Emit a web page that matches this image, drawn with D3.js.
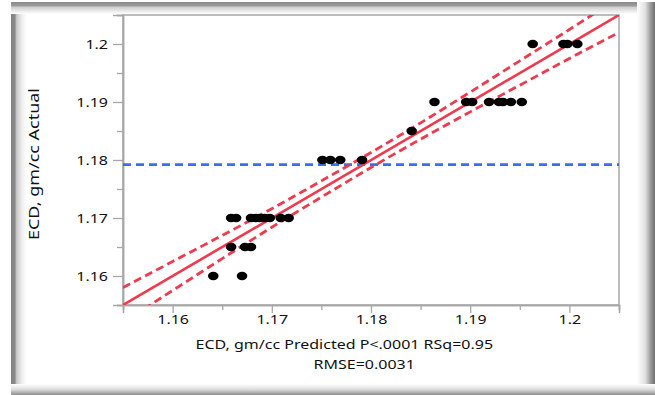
<!DOCTYPE html>
<html><head><meta charset="utf-8">
<script src="https://cdn.jsdelivr.net/npm/d3@7"></script>
<style>html,body{margin:0;padding:0;background:#fff;overflow:hidden}</style>
</head><body>
<svg id="c" width="655" height="395"></svg>
<script>
// ---- data ----
const predicted = [1.1641, 1.1670,
  1.1659, 1.1673, 1.1679,
  1.1659, 1.1664, 1.1679, 1.1684, 1.1688, 1.1693, 1.1698, 1.1709, 1.1717,
  1.1751, 1.1759, 1.1769, 1.1791,
  1.1841,
  1.1864, 1.1896, 1.1902, 1.1919, 1.1929, 1.1933, 1.1941, 1.1952,
  1.1963, 1.1994, 1.1998, 1.2008];
const actual = [1.16, 1.16,
  1.165, 1.165, 1.165,
  1.17, 1.17, 1.17, 1.17, 1.17, 1.17, 1.17, 1.17, 1.17,
  1.18, 1.18, 1.18, 1.18,
  1.185,
  1.19, 1.19, 1.19, 1.19, 1.19, 1.19, 1.19, 1.19,
  1.2, 1.2, 1.2, 1.2];
const xTickValues = [1.16, 1.17, 1.18, 1.19, 1.2];
const xTickLabels = ["1.16", "1.17", "1.18", "1.19", "1.2"];
const yTickValues = [1.16, 1.17, 1.18, 1.19, 1.2];
const yTickLabels = ["1.16", "1.17", "1.18", "1.19", "1.2"];
const minorTickValues = [1.155, 1.165, 1.175, 1.185, 1.195, 1.205];
const fitX = [1.155, 1.205];
const fitY = [1.155, 1.205];
const bandX = [1.155, 1.16, 1.165, 1.17, 1.175, 1.18, 1.185, 1.19, 1.195, 1.2, 1.205];
const bandHalfWidth = [0.0030, 0.0025, 0.0020, 0.0016, 0.0014, 0.0013, 0.0014, 0.0017, 0.0021, 0.0025, 0.0030];
const meanActual = 1.1792;
const xTitleLines = ["ECD, gm/cc Predicted P<.0001 RSq=0.95", "RMSE=0.0031"];
const yTitle = "ECD, gm/cc Actual";

// ---- drawing ----
const svg = d3.select("#c");
const FONT = "'Noto Sans', 'Open Sans', sans-serif";
const SX = 1.28;
const RED = "#ee3a4e", BLUE = "#3570ee", AXIS = "#a6a6a6", INK = "#111";
const L = 123, R = 619, T = 15, B = 305;

const defs = svg.append("defs");
function grad(id, x1, y1, x2, y2, stops) {
  const g = defs.append("linearGradient").attr("id", id)
    .attr("x1", x1).attr("y1", y1).attr("x2", x2).attr("y2", y2);
  stops.forEach(s => g.append("stop").attr("offset", s[0]).attr("stop-color", s[1]));
}
grad("gl", 0, 0, 1, 0, [[0, "#808080"], [0.25, "#8c8c8c"], [0.35, "#c8c8c8"], [0.7, "#f0f0f0"], [1, "#ffffff"]]);
grad("gt", 0, 0, 0, 1, [[0, "#8a8a8a"], [0.3, "#9a9a9a"], [0.45, "#cfcfcf"], [1, "#ffffff"]]);
grad("gr", 0, 0, 1, 0, [[0, "#ffffff"], [0.45, "#e2e2e2"], [0.75, "#9c9c9c"], [1, "#6e6e6e"]]);
grad("gb", 0, 0, 0, 1, [[0, "#ffffff"], [0.5, "#dcdcdc"], [1, "#8c8c8c"]]);

svg.append("rect").attr("x", 0).attr("y", 0).attr("width", 655).attr("height", 395).attr("fill", "#fff");
const fr = svg.append("g");
fr.append("rect").attr("x", 11).attr("y", 2).attr("width", 16).attr("height", 393).attr("fill", "url(#gl)");
fr.append("rect").attr("x", 11).attr("y", 2).attr("width", 644).attr("height", 12).attr("fill", "url(#gt)");
fr.append("rect").attr("x", 637).attr("y", 2).attr("width", 18).attr("height", 393).attr("fill", "url(#gr)");
fr.append("rect").attr("x", 11).attr("y", 384).attr("width", 644).attr("height", 11).attr("fill", "url(#gb)");

const x = d3.scaleLinear().domain([1.155, 1.205]).range([L, R]);
const y = d3.scaleLinear().domain([1.155, 1.205]).range([B, T]);

function stretch(sel, k) {
  sel.each(function () {
    const w = this.getComputedTextLength();
    d3.select(this).attr("textLength", w * k).attr("lengthAdjust", "spacingAndGlyphs");
  });
}

// plot frame
svg.append("rect").attr("x", L).attr("y", T).attr("width", R - L).attr("height", B - T)
  .attr("fill", "#fff").attr("stroke", AXIS).attr("stroke-width", 1.5);

// minor ticks
const gxm = svg.append("g").attr("transform", `translate(0,${B})`)
  .call(d3.axisBottom(x).tickValues(minorTickValues).tickSize(5).tickFormat(""));
const gym = svg.append("g").attr("transform", `translate(${L},0)`)
  .call(d3.axisLeft(y).tickValues(minorTickValues).tickSize(6).tickFormat(""));
// major ticks
const gx = svg.append("g").attr("transform", `translate(0,${B})`)
  .call(d3.axisBottom(x).tickValues(xTickValues).tickSize(8).tickPadding(2)
    .tickFormat((d, i) => xTickLabels[i]));
const gy = svg.append("g").attr("transform", `translate(${L},0)`)
  .call(d3.axisLeft(y).tickValues(yTickValues).tickSize(10).tickPadding(5)
    .tickFormat((d, i) => yTickLabels[i]));
[gxm, gym, gx, gy].forEach(g => {
  g.select(".domain").attr("stroke", AXIS).attr("stroke-width", 1.5);
  g.selectAll(".tick line").attr("stroke", AXIS).attr("stroke-width", 1.3);
  g.selectAll("text").attr("font-family", FONT).attr("font-size", 12.5).attr("fill", INK);
});
stretch(gx.selectAll("text"), SX);
stretch(gy.selectAll("text"), SX);

// clip
defs.append("clipPath").attr("id", "clip").append("rect")
  .attr("x", L).attr("y", T).attr("width", R - L).attr("height", B - T);
const plot = svg.append("g").attr("clip-path", "url(#clip)");

// mean line
plot.append("line").attr("x1", x(1.155)).attr("x2", x(1.205))
  .attr("y1", y(meanActual)).attr("y2", y(meanActual))
  .attr("stroke", BLUE).attr("stroke-width", 2.8).attr("stroke-dasharray", "8,5");

// fit line
plot.append("path").datum(fitX.map((d, i) => [d, fitY[i]]))
  .attr("d", d3.line().x(d => x(d[0])).y(d => y(d[1])))
  .attr("fill", "none").attr("stroke", RED).attr("stroke-width", 2.6);

// confidence bands
const bandLine = d3.line().curve(d3.curveNatural).x(d => x(d[0])).y(d => y(d[1]));
const upper = bandX.map((d, i) => [d, d + bandHalfWidth[i]]);
const lower = bandX.map((d, i) => [d, d - bandHalfWidth[i]]);
[upper, lower].forEach(b => {
  plot.append("path").datum(b).attr("d", bandLine)
    .attr("fill", "none").attr("stroke", RED).attr("stroke-width", 2.8)
    .attr("stroke-dasharray", "8,4.5");
});

// points
plot.selectAll("ellipse.pt").data(predicted.map((d, i) => [d, actual[i]]))
  .enter().append("ellipse").attr("class", "pt")
  .attr("cx", d => x(d[0])).attr("cy", d => y(d[1]))
  .attr("rx", 5.3).attr("ry", 4.2).attr("fill", "#000");

// titles
const xt = svg.append("g").attr("font-family", FONT).attr("font-size", 12.5).attr("fill", INK);
const t1 = xt.append("text").attr("x", 344.3).attr("y", 349.3).attr("text-anchor", "middle").text(xTitleLines[0]);
const t2 = xt.append("text").attr("x", 364.2).attr("y", 369.3).attr("text-anchor", "middle").text(xTitleLines[1]);
stretch(t1, SX); stretch(t2, SX);

const yt = svg.append("text").attr("transform", "translate(39,164) rotate(-90)")
  .attr("text-anchor", "middle").attr("font-family", FONT).attr("font-size", 15)
  .attr("fill", INK).text(yTitle);
yt.attr("textLength", 152).attr("lengthAdjust", "spacingAndGlyphs");
</script>
</body></html>
